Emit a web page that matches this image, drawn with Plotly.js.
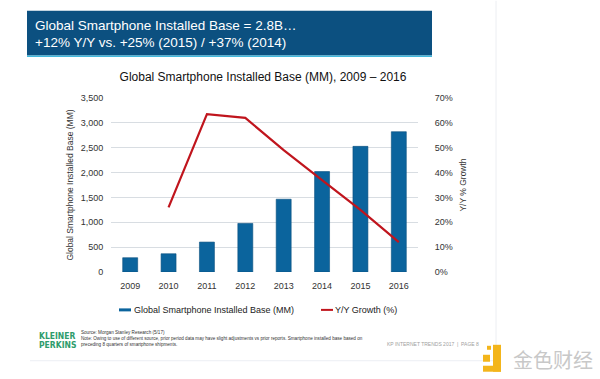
<!DOCTYPE html>
<html>
<head>
<meta charset="utf-8">
<script src="https://cdn.plot.ly/plotly-3.0.1.min.js"></script>
<style>html,body{margin:0;padding:0;background:#fff;}#chart{width:600px;height:379px;}</style>
</head>
<body>
<div id="chart"></div>
<script>
// ---- data ----
var years = [2009, 2010, 2011, 2012, 2013, 2014, 2015, 2016];
var installedBase = [287, 367, 602, 977, 1464, 2020, 2527, 2822];
var growthYears = [2010, 2011, 2012, 2013, 2014, 2015, 2016];
var growth = [0.26, 0.635, 0.62, 0.49, 0.37, 0.25, 0.12];
var baseTicks = [0, 500, 1000, 1500, 2000, 2500, 3000, 3500];
var baseTickText = ['0', '500', '1,000', '1,500', '2,000', '2,500', '3,000', '3,500'];
var growthTicks = [0, 0.1, 0.2, 0.3, 0.4, 0.5, 0.6, 0.7];
var growthTickText = ['0%', '10%', '20%', '30%', '40%', '50%', '60%', '70%'];
var seriesNames = ['Global Smartphone Installed Base (MM)', 'Y/Y Growth (%)'];

// ---- layout helpers (pixel -> paper) ----
var L = 111, R = 418, T = 97.5, B = 272;
function xp(px) { return (px - L) / (R - L); }
function yp(py) { return (B - py) / (B - T); }

var font = 'Liberation Sans, Arial, sans-serif';

var traces = [
  {
    type: 'bar', x: years, y: installedBase, name: seriesNames[0],
    marker: {color: '#0b649d', line: {color: '#0a4f7e', width: 0.6}},
    width: 0.39, showlegend: false, hoverinfo: 'x+y'
  },
  {
    type: 'scatter', mode: 'lines', x: growthYears, y: growth, name: seriesNames[1],
    yaxis: 'y2', line: {color: '#c0151d', width: 2.2}, showlegend: false
  }
];

var shapes = [
  // header band
  {type: 'rect', xref: 'paper', yref: 'paper', x0: xp(27), x1: xp(432), y0: yp(55), y1: yp(10), fillcolor: '#0c5080', line: {width: 0}, layer: 'below'},
  {type: 'rect', xref: 'paper', yref: 'paper', x0: xp(27), x1: xp(432), y0: yp(56.5), y1: yp(55), fillcolor: '#43b8dc', line: {width: 0}, layer: 'below'},
  // slide edges
  {type: 'line', xref: 'paper', yref: 'paper', x0: xp(496), x1: xp(496), y0: yp(0), y1: yp(361), line: {color: '#eceef2', width: 1}},
  {type: 'line', xref: 'paper', yref: 'paper', x0: xp(30), x1: xp(496), y0: yp(361), y1: yp(361), line: {color: '#eceef4', width: 1}},
  // legend swatches
  {type: 'rect', xref: 'paper', yref: 'paper', x0: xp(119), x1: xp(131), y0: yp(311.5), y1: yp(308.5), fillcolor: '#0b649d', line: {width: 0}},
  {type: 'line', xref: 'paper', yref: 'paper', x0: xp(321), x1: xp(333), y0: yp(310), y1: yp(310), line: {color: '#c0151d', width: 2}},
  // watermark logo
  {type: 'rect', xref: 'paper', yref: 'paper', x0: xp(483), x1: xp(490), y0: yp(362), y1: yp(355), fillcolor: '#f3b51b', line: {width: 0}},
  {type: 'rect', xref: 'paper', yref: 'paper', x0: xp(493), x1: xp(501), y0: yp(372), y1: yp(345), fillcolor: '#f3b51b', line: {width: 0}},
  {type: 'rect', xref: 'paper', yref: 'paper', x0: xp(483), x1: xp(501), y0: yp(372), y1: yp(366), fillcolor: '#f3b51b', line: {width: 0}},
  {type: 'rect', xref: 'paper', yref: 'paper', x0: xp(487), x1: xp(491), y0: yp(350), y1: yp(346), fillcolor: '#f3b51b', line: {width: 0}}
];

function ann(text, px, py, size, color, xanchor, family) {
  return {text: text, xref: 'paper', yref: 'paper', x: xp(px), y: yp(py), xanchor: xanchor || 'left', yanchor: 'middle',
    showarrow: false, font: {family: family || font, size: size, color: color}, align: 'left'};
}

var annotations = [
  ann('Global Smartphone Installed Base = 2.8B…', 33, 24.5, 13.5, '#ffffff'),
  ann('+12% Y/Y vs. +25% (2015) / +37% (2014)', 33, 42, 13.5, '#ffffff'),
  ann(seriesNames[0], 132, 310, 9, '#222222'),
  ann(seriesNames[1], 333, 310, 9, '#222222'),
  ann('<b>KLEINER</b>', 37, 336.5, 8.5, '#2e9c6c', 'left', 'DejaVu Sans Condensed, sans-serif'),
  ann('<b>PERKINS</b>', 37, 345.5, 8.5, '#2e9c6c', 'left', 'DejaVu Sans Condensed, sans-serif'),
  ann('Source: Morgan Stanley Research (5/17)<br>Note: Owing to use of different source, prior period data may have slight adjustments vs prior reports. Smartphone installed base based on<br>preceding 8 quarters of smartphone shipments.', 79, 338.5, 4.6, '#333333'),
  ann('KP INTERNET TRENDS 2017  |  PAGE 8', 385, 344.5, 5, '#a0a0a0'),
  ann('金色财经', 511, 360, 20, '#c8c8c8', 'left', 'Noto Sans CJK SC, sans-serif')
];

var layout = {
  width: 600, height: 379,
  margin: {l: L, r: 600 - R, t: T, b: 379 - B, pad: 0},
  paper_bgcolor: '#ffffff', plot_bgcolor: '#ffffff',
  font: {family: font, size: 9, color: '#333333'},
  title: {text: 'Global Smartphone Installed Base (MM), 2009 – 2016', font: {family: font, size: 12, color: '#111111'},
    x: xp(263), xref: 'paper', xanchor: 'center', y: 1 - 77 / 379, yanchor: 'middle'},
  showlegend: false,
  xaxis: {
    tickmode: 'array', tickvals: years, ticktext: years.map(String), range: [2008.5, 2016.5],
    showgrid: false, zeroline: false, showline: false, ticks: 'outside', ticklen: 5, tickcolor: 'rgba(0,0,0,0)',
    tickfont: {size: 9, color: '#333333'}, fixedrange: true
  },
  yaxis: {
    range: [0, 3500], tickmode: 'array', tickvals: baseTicks, ticktext: baseTickText,
    showgrid: true, gridcolor: '#d8dde2', gridwidth: 1, zeroline: false, showline: false,
    ticks: 'outside', ticklen: 5, tickcolor: 'rgba(0,0,0,0)', tickfont: {size: 9, color: '#333333'},
    title: {text: 'Global Smartphone Installed Base (MM)', font: {size: 8.5, color: '#333333'}, standoff: 5}
  },
  yaxis2: {
    range: [0, 0.7], overlaying: 'y', side: 'right', tickmode: 'array', tickvals: growthTicks, ticktext: growthTickText,
    showgrid: false, zeroline: false, showline: false,
    ticks: 'outside', ticklen: 14, tickcolor: 'rgba(0,0,0,0)', tickfont: {size: 9, color: '#333333'},
    title: {text: 'Y/Y % Growth', font: {size: 8.5, color: '#333333'}, standoff: 8}
  },
  shapes: shapes,
  annotations: annotations
};

Plotly.newPlot('chart', traces, layout, {displayModeBar: false, staticPlot: true});
</script>
</body>
</html>
